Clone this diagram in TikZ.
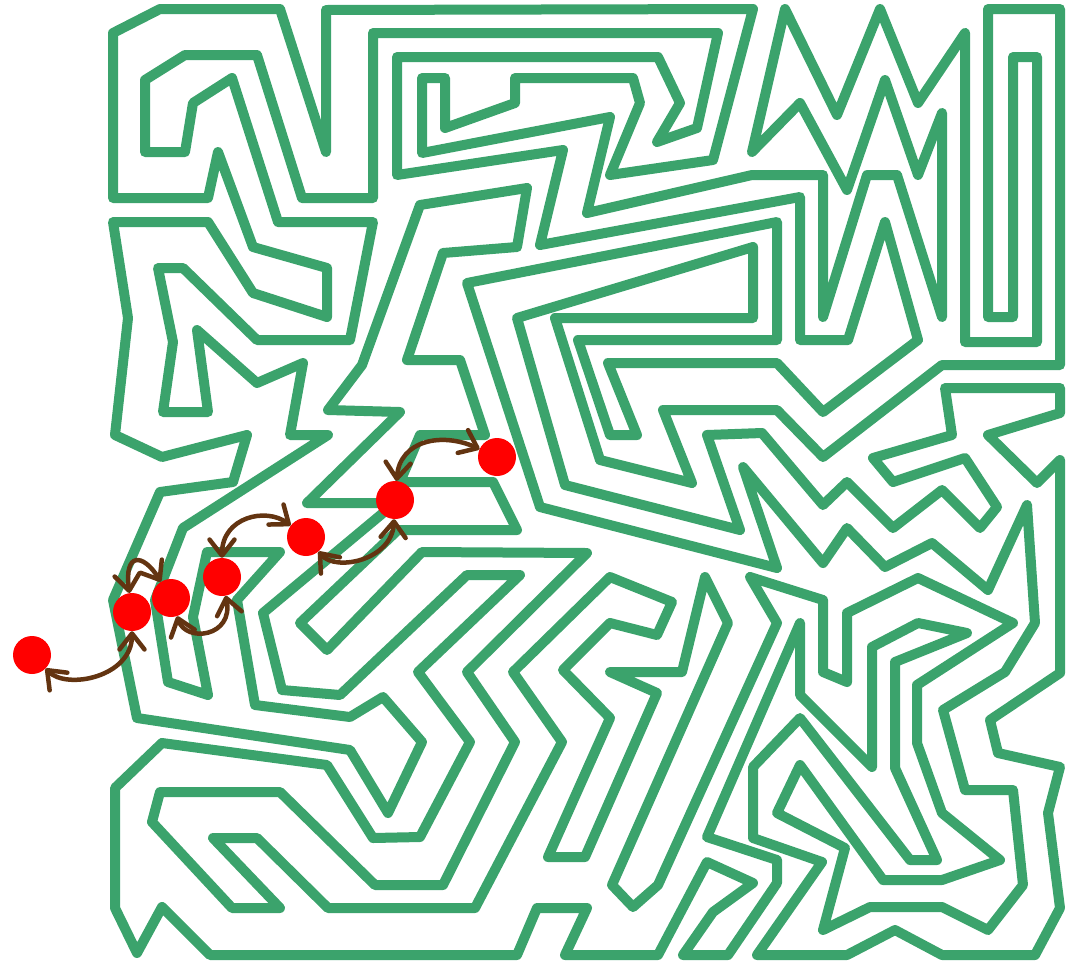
\documentclass[tikz,border=0pt]{standalone}
\usetikzlibrary{arrows.meta}
\definecolor{mz}{RGB}{59,163,108}
\definecolor{ar}{RGB}{99,52,17}
\begin{document}
\begin{tikzpicture}[x=1pt,y=-1pt,
  maze/.style={draw=mz,line width=10pt,line join=round,line cap=round},
  dot/.style={circle,fill=red,minimum size=38pt,inner sep=0pt},
  link/.style={draw=ar,line width=4.5pt,line cap=round,
    {Straight Barb[length=16pt,width=25pt,round]}-{Straight Barb[length=16pt,width=25pt,round]}}]
\useasboundingbox (0,0) rectangle (1081,962);
\draw[maze] (395,503)--(307,503)--(400,412)--(328,410)--(362,365)--(420,205)--(527,188)--(517,247)--(443,253)--(407,360)--(460,360)--(485,435)--(420,435)--(400,482)--(493,482)--(517,530)--(398,530)--(300,623)--(327,650)--(422,552)--(587,553)--(467,672)--(515,742)--(443,885)--(375,885)--(280,792)--(160,792)--(152,822)--(232,908)--(280,908)--(213,838)--(257,838)--(328,908)--(475,908)--(562,742)--(513,672)--(610,577)--(672,602)--(657,635)--(610,623)--(563,670)--(610,718)--(548,857)--(585,857)--(657,693)--(610,672)--(682,672)--(705,577)--(728,623)--(612,885)--(633,907)--(658,885)--(777,623)--(750,577)--(823,600)--(823,672)--(847,682)--(847,613)--(918,578)--(1013,623)--(917,685)--(917,743)--(942,813)--(1000,860)--(942,880)--(883,880)--(800,765)--(777,813)--(845,848)--(823,930)--(870,907)--(942,907)--(988,930)--(1023,885)--(1013,790)--(965,790)--(943,710)--(1005,672)--(1035,623)--(1027,505)--(988,590)--(932,543)--(885,567)--(847,528)--(823,563)--(743,467)--(777,568)--(540,507)--(467,283)--(777,222)--(777,340)--(578,340)--(610,435)--(637,435)--(608,363)--(777,363)--(823,412)--(918,340)--(885,222)--(848,340)--(800,340)--(800,197)--(540,245)--(563,150)--(397,175)--(397,57)--(658,57)--(680,103)--(657,142)--(697,128)--(718,33)--(373,33)--(373,198)--(302,198)--(257,55)--(185,55)--(145,80)--(145,152)--(185,152)--(193,103)--(232,78)--(278,222)--(373,222)--(350,340)--(257,340)--(183,268)--(158,268)--(173,342)--(163,412)--(208,412)--(197,330)--(257,383)--(303,363)--(290,435)--(328,435)--(183,528)--(155,600)--(168,682)--(208,695)--(193,617)--(207,552)--(280,552)--(237,600)--(255,705)--(350,717)--(383,697)--(422,742)--(388,813)--(350,750)--(137,718)--(113,600)--(160,492)--(233,482)--(247,435)--(162,457)--(115,435)--(128,318)--(113,222)--(208,222)--(253,293)--(327,317)--(327,268)--(253,247)--(218,152)--(208,198)--(113,198)--(113,33)--(160,9)--(280,9)--(326,152)--(326,10)--(753,9)--(713,160)--(610,175)--(640,103)--(633,78)--(515,78)--(515,103)--(445,128)--(445,78)--(422,78)--(422,153)--(610,117)--(587,213)--(752,175)--(823,175)--(823,317)--(867,175)--(897,175)--(942,317)--(942,113)--(918,175)--(885,80)--(847,190)--(800,103)--(752,152)--(785,9)--(837,115)--(880,9)--(918,103)--(965,33)--(965,342)--(1037,342)--(1037,57)--(1013,57)--(1013,317)--(988,317)--(988,9)--(1060,9)--(1060,365)--(942,365)--(823,457)--(777,410)--(663,410)--(692,483)--(600,460)--(555,318)--(753,318)--(753,247)--(517,318)--(565,485)--(740,530)--(707,435)--(762,433)--(823,505)--(847,482)--(893,528)--(942,490)--(980,528)--(997,507)--(965,458)--(893,482)--(873,458)--(952,435)--(945,388)--(1060,388)--(1060,413)--(988,435)--(1037,483)--(1060,460)--(1060,673)--(990,720)--(998,753)--(1060,767)--(1048,813)--(1060,908)--(1035,955)--(942,955)--(895,930)--(847,955)--(757,955)--(822,862)--(753,838)--(753,767)--(800,718)--(910,860)--(937,860)--(895,768)--(895,662)--(967,633)--(918,623)--(872,647)--(872,767)--(800,695)--(800,623)--(707,837)--(777,860)--(777,883)--(728,955)--(683,955)--(713,912)--(753,883)--(707,862)--(658,955)--(565,955)--(587,908)--(537,908)--(517,955)--(210,955)--(162,907)--(137,953)--(115,908)--(115,788)--(162,743)--(327,765)--(373,838)--(420,837)--(470,742)--(418,672)--(520,575)--(467,575)--(340,695)--(282,690)--(263,613)--cycle;
\node[dot] (A) at (497,457) {};
\node[dot] (B) at (395,500) {};
\node[dot] (C) at (306,537) {};
\node[dot] (D) at (222,577) {};
\node[dot] (E) at (171,598) {};
\node[dot] (F) at (132,612) {};
\node[dot] (G) at (32,655) {};
\draw[link] (B) .. controls +(5,-60) and +(-55,-25) .. (A);
\draw[link] (C) .. controls +(30,35) and +(-3,60) .. (B);
\draw[link] (D) .. controls +(0,-60) and +(-40,-30) .. (C);
\draw[link] (E) .. controls +(15,45) and +(12,60) .. (D);
\draw[link] (F) .. controls +(-8,-60) and +(-28,-45) .. (E);
\draw[link] (G) .. controls +(35,35) and +(0,65) .. (F);
\end{tikzpicture}
\end{document}
